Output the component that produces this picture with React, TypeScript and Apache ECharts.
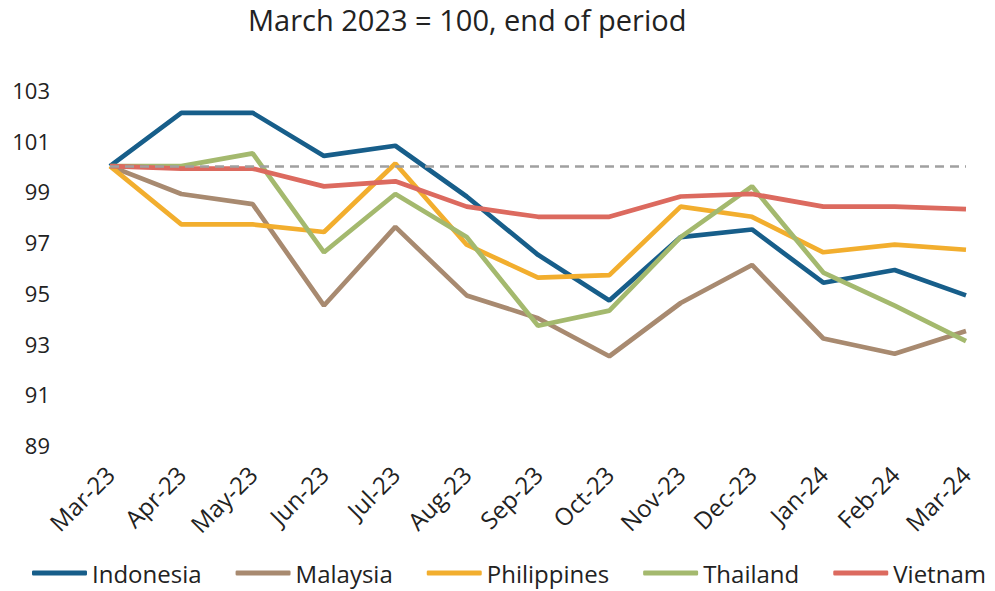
import React, { useEffect, useRef } from "react";
import * as echarts from "echarts";

const categories = ["Mar-23", "Apr-23", "May-23", "Jun-23", "Jul-23", "Aug-23", "Sep-23", "Oct-23", "Nov-23", "Dec-23", "Jan-24", "Feb-24", "Mar-24"];
const indonesia = [100, 102.1, 102.1, 100.4, 100.8, 98.8, 96.5, 94.7, 97.2, 97.5, 95.4, 95.9, 94.9];
const malaysia = [100, 98.9, 98.5, 94.5, 97.6, 94.9, 94.0, 92.5, 94.6, 96.1, 93.2, 92.6, 93.5];
const philippines = [100, 97.7, 97.7, 97.4, 100.1, 96.9, 95.6, 95.7, 98.4, 98.0, 96.6, 96.9, 96.7];
const thailand = [100, 100, 100.5, 96.6, 98.9, 97.2, 93.7, 94.3, 97.2, 99.2, 95.8, 94.5, 93.1];
const vietnam = [100, 99.9, 99.9, 99.2, 99.4, 98.4, 98.0, 98.0, 98.8, 98.9, 98.4, 98.4, 98.3];
const baseLevel = 100;
const titleText = "March 2023 = 100, end of period";

const FONT = "'Open Sans', 'Noto Sans', sans-serif";

export default function App() {
  const ref = useRef<HTMLDivElement>(null);
  useEffect(() => {
    if (!ref.current) return;
    const chart = echarts.init(ref.current, null, { renderer: "svg" });
    const mk = (name: string, data: number[], color: string, extra: any = {}) => ({
      name,
      type: "line",
      data,
      symbol: "none",
      lineStyle: { color, width: 4.7 },
      itemStyle: { color },
      ...extra,
    });
    chart.setOption({
      animation: false,
      textStyle: { fontFamily: FONT },
      title: {
        text: titleText,
        left: 243,
        top: 0,
        textStyle: { fontFamily: FONT, fontSize: 29, fontWeight: "normal", color: "#222" },
      },
      legend: {
        top: 556,
        left: 27,
        icon: "roundRect",
        itemWidth: 55,
        itemHeight: 5,
        itemGap: 34,
        textStyle: { fontFamily: FONT, fontSize: 24, color: "#222" },
        data: ["Indonesia", "Malaysia", "Philippines", "Thailand", "Vietnam"],
      },
      grid: { left: 110, right: 29, top: 90, bottom: 146, containLabel: false },
      xAxis: {
        type: "category",
        data: categories,
        boundaryGap: false,
        axisLine: { show: false },
        axisTick: { show: false },
        axisLabel: { rotate: 45, margin: 25, fontSize: 24, color: "#222", fontFamily: FONT },
      },
      yAxis: {
        type: "value",
        min: 89,
        max: 103,
        interval: 2,
        splitLine: { show: false },
        axisLine: { show: false },
        axisTick: { show: false },
        axisLabel: { margin: 60, fontSize: 22, color: "#222", fontFamily: FONT },
      },
      series: [
        mk("Indonesia", indonesia, "#175e8a"),
        mk("Malaysia", malaysia, "#a88a70"),
        mk("Philippines", philippines, "#f2ae2e"),
        mk("Thailand", thailand, "#a4b96e"),
        mk("Vietnam", vietnam, "#dc6a5f", {
          markLine: {
            silent: true,
            symbol: "none",
            label: { show: false },
            lineStyle: { color: "#a0a0a0", type: [9, 6], width: 2.5 },
            data: [{ yAxis: baseLevel }],
            z: 10,
          },
        }),
      ],
    });
    return () => chart.dispose();
  }, []);
  return (
    <div
      ref={ref}
      style={{ position: "absolute", left: 0, top: 0, width: 995, height: 591, overflow: "hidden" }}
    />
  );
}
